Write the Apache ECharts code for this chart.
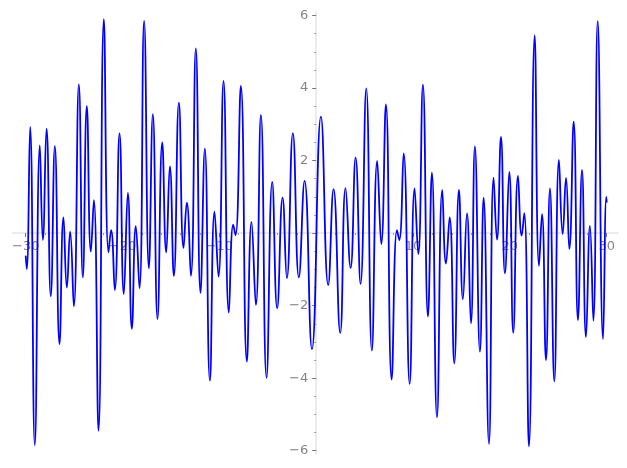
<!DOCTYPE html>
<html>
<head>
<meta charset="utf-8">
<script src="https://cdn.jsdelivr.net/npm/echarts@6/dist/echarts.min.js"></script>
<style>
  html, body { margin: 0; padding: 0; background: #fff; }
  #chart { width: 627px; height: 468px; }
</style>
</head>
<body>
<div id="chart"></div>
<script>
// turning points of the curve
const xs = [-30, -29.89, -29.54, -29.06, -28.54, -28.23, -27.85, -27.41, -26.99, -26.51,
  -26.10, -25.75, -25.41, -25.03, -24.51, -24.10, -23.69, -23.27, -22.96, -22.48,
  -21.93, -21.45, -21.18, -20.80, -20.31, -19.87, -19.45, -19.04, -18.63, -18.25,
  -17.77, -17.28, -16.87, -16.39, -15.90, -15.49, -15.11, -14.70, -14.18, -13.70,
  -13.36, -12.94, -12.43, -11.95, -11.50, -10.98, -10.50, -10.09, -9.57, -9.02,
  -8.57, -8.33, -7.78, -7.16, -6.68, -6.23, -5.71, -5.13, -4.54, -4.03,
  -3.47, -3.03, -2.41, -1.79, -1.20, -0.44, 0.49, 1.24, 1.79, 2.48,
  3.03, 3.55, 4.07, 4.58, 5.17, 5.75, 6.30, 6.72, 7.20, 7.79,
  8.34, 8.58, 9.03, 9.65, 10.16, 10.54, 11.02, 11.54, 11.95, 12.47,
  13.02, 13.40, 13.78, 14.26, 14.74, 15.15, 15.57, 15.98, 16.39, 16.91,
  17.29, 17.84, 18.32, 18.67, 19.08, 19.49, 19.94, 20.35, 20.84, 21.22,
  21.49, 21.97, 22.56, 23.01, 23.32, 23.73, 24.14, 24.59, 25.07, 25.45,
  25.80, 26.14, 26.59, 27.03, 27.45, 27.86, 28.27, 28.62, 29.07, 29.62,
  29.96, 30];
const ys = [-0.62, -0.99, 2.93, -5.85, 2.42, -0.19, 2.88, -1.74, 2.40, -3.06,
  0.43, -1.50, 0.04, -2.02, 4.10, -1.22, 3.50, -0.51, 0.91, -5.45,
  5.90, -0.53, 0.08, -1.57, 2.75, -1.68, 1.11, -2.64, 0.19, -1.52,
  5.85, -0.97, 3.28, -2.37, 2.50, -0.53, 1.84, -1.18, 3.60, -0.41,
  0.84, -1.18, 5.09, -1.65, 2.33, -4.07, 0.59, -1.20, 4.20, -2.19,
  0.23, -0.06, 4.06, -3.54, 0.31, -1.98, 3.26, -3.99, 1.41, -2.07,
  0.98, -1.24, 2.75, -1.22, 1.44, -3.20, 3.21, -1.43, 1.21, -2.75,
  1.24, -0.96, 2.08, -1.40, 3.99, -3.24, 1.99, -0.30, 3.55, -4.04,
  0.08, -0.19, 2.20, -4.16, 1.23, -0.58, 4.09, -2.30, 1.67, -5.08,
  1.19, -0.84, 0.43, -3.59, 1.19, -1.82, 0.54, -2.49, 2.39, -3.27,
  0.98, -5.81, 1.53, -0.18, 2.65, -1.11, 1.69, -2.75, 1.58, -0.07,
  0.55, -5.88, 5.45, -0.90, 0.52, -3.50, 1.23, -4.09, 2.02, -0.03,
  1.52, -0.44, 3.07, -2.40, 1.74, -2.87, 0.20, -2.42, 5.85, -2.92,
  1.00, 0.84];
const xTicks = [-30, -20, -10, 10, 20, 30];
const yTicks = [-6, -4, -2, 2, 4, 6];

const chart = echarts.init(document.getElementById('chart'));

const minus = v => String(v).replace('-', '\u2212');
const labelStyle = { color: '#858585', fontSize: 13, fontFamily: 'DejaVu Sans' };

// data grid edges, used to shift the tick axes onto the zero lines
const gLeft = 25.7, gRight = 20.3, gTop = 15.5, gBottom = 17.3;
const gW = 627 - gLeft - gRight, gH = 468 - gTop - gBottom;

const option = {
  animation: false,
  grid: [
    // wide grid: only the centred spines
    { left: 12.3, right: 8.7, top: 11.9, bottom: 13.7 },
    // data grid
    { left: gLeft, right: gRight, top: gTop, bottom: gBottom }
  ],
  xAxis: [
    {
      gridIndex: 0, type: 'value', min: -31.3, max: 31.3,
      axisLine: { onZero: true, lineStyle: { color: '#e5e5e5', width: 1.5 } },
      axisTick: { show: false }, axisLabel: { show: false }, splitLine: { show: false }
    },
    {
      gridIndex: 1, type: 'value', min: -30, max: 30, interval: 10,
      position: 'bottom', offset: -gH / 2,
      axisLine: { show: false, onZero: false },
      axisTick: { show: true, length: 4, lineStyle: { color: '#777777' } },
      minorTick: { show: true, splitNumber: 5, length: 2, lineStyle: { color: '#999999' } },
      axisLabel: {
        ...labelStyle, margin: 7,
        formatter: v => xTicks.includes(v) ? minus(v) : ''
      },
      splitLine: { show: false }
    }
  ],
  yAxis: [
    {
      gridIndex: 0, type: 'value', min: -6.1, max: 6.1,
      axisLine: { onZero: true, lineStyle: { color: '#e5e5e5', width: 1.5 } },
      axisTick: { show: false }, axisLabel: { show: false }, splitLine: { show: false }
    },
    {
      gridIndex: 1, type: 'value', min: -6, max: 6, interval: 2,
      position: 'left', offset: -gW / 2,
      axisLine: { show: false, onZero: false },
      axisTick: { show: true, length: 4, lineStyle: { color: '#777777' } },
      minorTick: { show: true, splitNumber: 4, length: 2, lineStyle: { color: '#999999' } },
      axisLabel: {
        ...labelStyle, margin: 8,
        formatter: v => yTicks.includes(v) ? minus(v) : ''
      },
      splitLine: { show: false }
    }
  ],
  series: [
    {
      type: 'line',
      xAxisIndex: 1,
      yAxisIndex: 1,
      data: xs.map((x, i) => [x, ys[i]]),
      smooth: 0.5,
      showSymbol: false,
      lineStyle: { color: '#0000ff', width: 1.8 }
    }
  ]
};

chart.setOption(option);
</script>
</body>
</html>
